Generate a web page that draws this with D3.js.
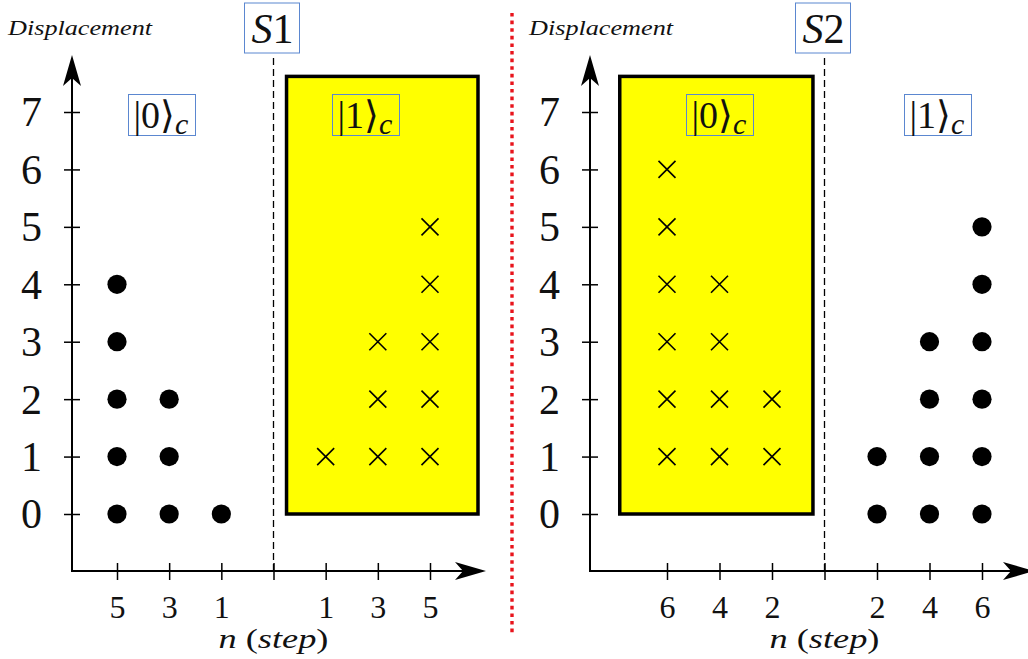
<!DOCTYPE html>
<html>
<head>
<meta charset="utf-8">
<script src="https://cdn.jsdelivr.net/npm/d3@7"></script>
<style>
  html, body { margin: 0; padding: 0; background: #fff; }
  svg { display: block; }
  text { font-family: "Liberation Serif", "DejaVu Serif", serif; fill: #111; }
</style>
</head>
<body>
<svg id="chart" width="1028" height="659"></svg>
<script>
// Displacement levels on the vertical axis
const yTicks = [0, 1, 2, 3, 4, 5, 6, 7];

// Panel S1: step labels left (|0>_c) and right (|1>_c) of the divider
const s1LeftSteps = [5, 3, 1];
const s1RightSteps = [1, 3, 5];
// Panel S2
const s2LeftSteps = [6, 4, 2];
const s2RightSteps = [2, 4, 6];

// Highest displacement reached at each step (points go from the lowest to this value)
const s1DotsTop = [4, 2, 0];        // |0>_c, n = 5, 3, 1 (from 0)
const s1CrossTop = [1, 3, 5];       // |1>_c, n = 1, 3, 5 (from 1)
const s2CrossTop = [6, 4, 2];       // |0>_c, n = 6, 4, 2 (from 1)
const s2DotsTop = [1, 3, 5];        // |1>_c, n = 2, 4, 6 (from 0)

const svg = d3.select("#chart");

const y = d3.scaleLinear().domain([0, 7]).range([514, 112]);

function expand(steps, from, tops, side) {
  const pts = [];
  steps.forEach((n, i) => {
    for (let v = from; v <= tops[i]; v++) {
      // slot: -3,-2,-1 on the left of the divider, 1,2,3 on the right
      const slot = side < 0 ? i - 3 : i + 1;
      pts.push({ slot, v, n });
    }
  });
  return pts;
}

function arrowUp(g, x, yTip) {
  g.append("path")
    .attr("d", `M${x},${yTip} L${x + 9},${yTip + 31} L${x},${yTip + 23} L${x - 9},${yTip + 31} Z`)
    .attr("fill", "#000");
}
function arrowRight(g, xTip, yy) {
  g.append("path")
    .attr("d", `M${xTip},${yy} L${xTip - 31},${yy + 9} L${xTip - 23},${yy} L${xTip - 31},${yy - 9} Z`)
    .attr("fill", "#000");
}

function ket(g, cx, cy, digit, boxW) {
  const w = boxW, h = 41;
  g.append("rect")
    .attr("x", cx - w / 2).attr("y", cy - h / 2)
    .attr("width", w).attr("height", h)
    .attr("fill", "none")
    .attr("stroke", "#5b87d0").attr("stroke-width", 1);
  const t = g.append("text")
    .attr("x", cx - w / 2 + 5).attr("y", cy + 13)
    .attr("font-size", 38);
  t.append("tspan").text("|" + digit + "⟩");
  t.append("tspan").attr("font-style", "italic").attr("font-size", 30).attr("dy", 6).text("c");
}

function panel(cfg) {
  const g = svg.append("g");
  const x = d3.scaleLinear().domain([-3, 3]).range(cfg.xRange);
  const axisX = cfg.axisX, axisY = 571;

  // highlighted region
  g.append("rect")
    .attr("x", x(cfg.box[0])).attr("y", y(7.62))
    .attr("width", x(cfg.box[1]) - x(cfg.box[0]))
    .attr("height", y(0) - y(7.62))
    .attr("fill", "#ffff00").attr("stroke", "#000").attr("stroke-width", 3.5);

  // divider between the two coin states
  g.append("line")
    .attr("x1", x(0)).attr("x2", x(0))
    .attr("y1", 58).attr("y2", axisY)
    .attr("stroke", "#000").attr("stroke-width", 1.3)
    .attr("stroke-dasharray", "7,4");

  // y axis
  const yAxis = d3.axisLeft(y).tickValues(yTicks).tickFormat(d3.format("d"))
    .tickSize(8).tickPadding(22);
  const ya = g.append("g").attr("transform", `translate(${axisX},0)`).call(yAxis);
  ya.select(".domain").remove();
  ya.selectAll(".tick line").attr("x1", -8).attr("x2", 8).attr("stroke", "#000").attr("stroke-width", 1.5);
  ya.selectAll(".tick text")
    .attr("font-size", 42).attr("fill", "#111")
    .attr("dy", "0.33em");
  g.append("line").attr("x1", axisX).attr("x2", axisX).attr("y1", 75).attr("y2", axisY + 1)
    .attr("stroke", "#000").attr("stroke-width", 2);
  arrowUp(g, axisX, 55);

  // x axis
  const labels = cfg.leftSteps.concat([""], cfg.rightSteps);
  const xAxis = d3.axisBottom(x).tickValues([-3, -2, -1, 0, 1, 2, 3])
    .tickFormat((d, i) => labels[i]).tickSize(9).tickPadding(15);
  const xa = g.append("g").attr("transform", `translate(0,${axisY})`).call(xAxis);
  xa.select(".domain").remove();
  xa.selectAll(".tick line").attr("y1", -8).attr("y2", 9).attr("stroke", "#000").attr("stroke-width", 1.5);
  xa.selectAll(".tick text")
    .attr("font-size", 32).attr("fill", "#111");
  g.append("line").attr("x1", axisX - 1).attr("x2", cfg.xTip - 20).attr("y1", axisY).attr("y2", axisY)
    .attr("stroke", "#000").attr("stroke-width", 2);
  arrowRight(g, cfg.xTip, axisY);

  // axis titles
  g.append("text").attr("x", cfg.dispX).attr("y", 35)
    .attr("font-style", "italic").attr("font-size", 22)
    .attr("textLength", 144).attr("lengthAdjust", "spacingAndGlyphs")
    .text("Displacement");
  const nt = g.append("text").attr("x", x(0)).attr("y", 648)
    .attr("text-anchor", "middle").attr("font-size", 27)
    .attr("textLength", 110).attr("lengthAdjust", "spacingAndGlyphs");
  nt.append("tspan").attr("font-style", "italic").text("n");
  nt.append("tspan").text(" (");
  nt.append("tspan").attr("font-style", "italic").text("step");
  nt.append("tspan").text(")");

  // stage label
  g.append("rect").attr("x", x(0) - 29).attr("y", 3).attr("width", 55).attr("height", 50)
    .attr("fill", "#fff").attr("stroke", "#5b87d0").attr("stroke-width", 1);
  const st = g.append("text").attr("x", x(0) - 1).attr("y", 43)
    .attr("text-anchor", "middle").attr("font-size", 42);
  st.append("tspan").attr("font-style", "italic").text("S");
  st.append("tspan").text(cfg.stage);

  // coin state labels
  ket(g, cfg.ket0X, 115, 0, 67);
  ket(g, cfg.ket1X, 115, 1, 67);

  // walker positions: filled dots and crosses
  g.selectAll("circle.dot").data(cfg.dots).join("circle")
    .attr("class", "dot")
    .attr("cx", d => x(d.slot)).attr("cy", d => y(d.v)).attr("r", 9.6)
    .attr("fill", "#000");
  const cs = 8.5;
  g.selectAll("path.cross").data(cfg.crosses).join("path")
    .attr("class", "cross")
    .attr("d", d => {
      const cx = x(d.slot), cy = y(d.v);
      return `M${cx - cs},${cy - cs}L${cx + cs},${cy + cs}M${cx - cs},${cy + cs}L${cx + cs},${cy - cs}`;
    })
    .attr("stroke", "#000").attr("stroke-width", 1.6).attr("fill", "none");
}

panel({
  xRange: [117, 430], axisX: 72, xTip: 486, dispX: 8,
  leftSteps: s1LeftSteps, rightSteps: s1RightSteps,
  box: [0.25, 3.92], stage: "1",
  ket0X: 162, ket1X: 366,
  dots: expand(s1LeftSteps, 0, s1DotsTop, -1),
  crosses: expand(s1RightSteps, 1, s1CrossTop, 1)
});

panel({
  xRange: [667, 982], axisX: 590, xTip: 1034, dispX: 529,
  leftSteps: s2LeftSteps, rightSteps: s2RightSteps,
  box: [-3.9, -0.22], stage: "2",
  ket0X: 720, ket1X: 938,
  dots: expand(s2RightSteps, 0, s2DotsTop, 1),
  crosses: expand(s2LeftSteps, 1, s2CrossTop, -1)
});

// separator between the two stages
svg.append("line")
  .attr("x1", 512).attr("x2", 512).attr("y1", 13).attr("y2", 636)
  .attr("stroke", "#e8141c").attr("stroke-width", 3.4)
  .attr("stroke-dasharray", "3.6,4");
</script>
</body>
</html>
